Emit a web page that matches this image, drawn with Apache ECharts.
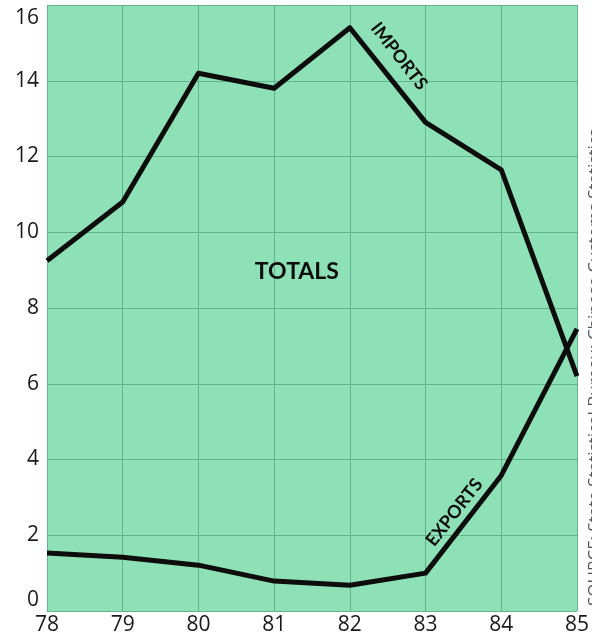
<!DOCTYPE html>
<html>
<head>
<meta charset="utf-8">
<script src="https://cdn.jsdelivr.net/npm/echarts@6/dist/echarts.min.js"></script>
<style>
  html, body { margin: 0; padding: 0; background: #fff; }
</style>
</head>
<body>
<div id="chart" style="width: 592px;height:638px"></div>
<script>
// years 1978..1985, values
const years = [78, 79, 80, 81, 82, 83, 84, 85]
const imports = [9.25, 10.8, 14.2, 13.8, 15.4, 12.9, 11.65, 6.2]
const exports = [1.53, 1.42, 1.21, 0.79, 0.68, 1.0, 3.58, 7.45]
const yTicks = [0, 2, 4, 6, 8, 10, 12, 14, 16]

const lineStyle = { color: '#0d0d0d', width: 5, join: 'round' }
const tagFont = { fontFamily: 'Lato', fontWeight: 'bold', color: '#0d0d0d' }

let mychart = echarts.init(document.getElementById('chart'))
mychart.setOption({
  backgroundColor: '#fff',
  animation: false,
  grid: { left: 47, right: 13, top: 5, bottom: 27, show: true, backgroundColor: '#8ee1b7', borderWidth: 0 },
  xAxis: {
    type: 'value',
    min: years[0],
    max: years[years.length - 1],
    interval: 1,
    axisLine: { show: false },
    axisTick: { show: false },
    splitLine: { lineStyle: { color: '#62b48c', width: 1 } },
    axisLabel: { fontFamily: 'Open Sans', fontSize: 21, color: '#1a1a1a', margin: 4 }
  },
  yAxis: {
    type: 'value',
    min: yTicks[0],
    max: yTicks[yTicks.length - 1],
    interval: 2,
    axisLine: { show: false },
    axisTick: { show: false },
    splitLine: { lineStyle: { color: '#62b48c', width: 1 } },
    axisLabel: {
      fontFamily: 'Open Sans', fontSize: 21, color: '#1a1a1a', margin: 8,
      formatter: function (v) {
        if (v === yTicks[0]) return '{lo|' + v + '}'
        if (v === yTicks[yTicks.length - 1]) return '{hi|' + v + '}'
        return v
      },
      rich: {
        lo: { fontFamily: 'Open Sans', fontSize: 21, color: '#1a1a1a', padding: [0, 0, 22, 0] },
        hi: { fontFamily: 'Open Sans', fontSize: 21, color: '#1a1a1a', padding: [26, 0, 0, 0] }
      }
    }
  },
  graphic: [{
    type: 'text',
    left: 587,
    bottom: 32,
    rotation: Math.PI / 2,
    style: { text: 'SOURCE: State Statistical Bureau; Chinese Customs Statistics', font: '17px "Open Sans"', fill: '#555' }
  }],
  series: [{
    name: 'Imports',
    type: 'line',
    data: years.map((y, i) => [y, imports[i]]),
    symbol: 'none',
    lineStyle: lineStyle,
    markPoint: {
      symbolSize: 0,
      data: [
        { coord: [82.65, 14.65], label: { show: true, formatter: 'IMPORTS', rotate: -52, fontSize: 18, ...tagFont } },
        { coord: [81.3, 8.95], label: { show: true, formatter: 'TOTALS', fontSize: 23, ...tagFont } }
      ]
    }
  }, {
    name: 'Exports',
    type: 'line',
    data: years.map((y, i) => [y, exports[i]]),
    symbol: 'none',
    lineStyle: lineStyle,
    markPoint: {
      symbolSize: 0,
      data: [
        { coord: [83.38, 2.6], label: { show: true, formatter: 'EXPORTS', rotate: 52, fontSize: 18, ...tagFont } }
      ]
    }
  }]
})
</script>
</body>
</html>
